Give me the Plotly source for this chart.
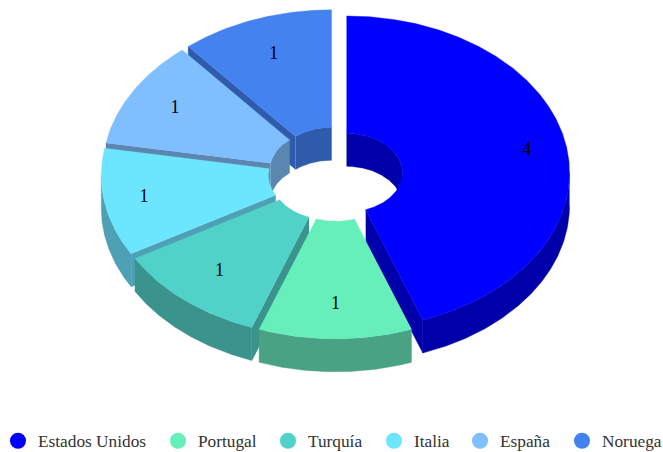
import numpy as np
import plotly.graph_objects as go

countries = ["Estados Unidos", "Portugal", "Turquía", "Italia", "España", "Noruega"]
values = [4, 1, 1, 1, 1, 1]
top_colors = ["#0000ff", "#66eebb", "#50d2c8", "#6ce5ff", "#7fbfff", "#4482f0"]
side_colors = ["#0000aa", "#4aa285", "#3a938d", "#4ea1b5", "#5a86b0", "#2e5bab"]

# projection of the tilted donut onto the page
W, H = 663, 452
CX, CY = 335.4, 174.1
R_OUT, R_IN = 223.0, 56.0
TILT = 0.703
DEPTH = 33.0
OFFSET = 11.3
LABEL_R = [183, 174, 169, 183, 174, 169]
DRAW_ORDER = [5, 4, 0, 3, 2, 1]
LEGEND_MARKER_X = [18, 178, 288, 394, 480, 582]
LEGEND_Y = 441


def arc(cx, cy, r, a0, a1, drop=0.0):
    a0 = float(a0); a1 = float(a1)
    t = np.radians(np.linspace(a0, a1, max(2, int(abs(a1 - a0)) * 2 + 1)))
    return cx + r * np.sin(t), cy - r * TILT * np.cos(t) + drop


def poly(fig, xs, ys, color):
    fig.add_trace(go.Scatter(
        x=np.concatenate(xs), y=np.concatenate(ys), mode="lines", fill="toself",
        fillcolor=color, line=dict(color=color, width=0.4),
        hoverinfo="skip", showlegend=False))


def clip(a0, a1, lo, hi):
    s, e = max(a0, lo), min(a1, hi)
    return (s, e) if e > s else None


fig = go.Figure()
total = sum(values)
edges = np.concatenate([[0], np.cumsum(values)]) * 360.0 / total
label_x, label_y = [None] * len(values), [None] * len(values)

for i in DRAW_ORDER:
    a0, a1 = edges[i], edges[i + 1]
    mid = np.radians((a0 + a1) / 2)
    cx = CX + OFFSET * np.sin(mid)
    cy = CY - OFFSET * TILT * np.cos(mid)
    side = side_colors[i]

    # inner wall: seen on the far half
    for lo, hi in ((0, 90), (270, 360)):
        c = clip(a0, a1, lo, hi)
        if c:
            x1, y1 = arc(cx, cy, R_IN, c[0], c[1])
            x2, y2 = arc(cx, cy, R_IN, c[1], c[0], DEPTH)
            poly(fig, [x1, x2], [y1, y2], side)

    # radial cut faces
    cut = a1 if a1 < 180 else (a0 if a0 > 180 else None)
    if cut is not None:
        t = np.radians(cut)
        s, c_ = np.sin(t), np.cos(t)
        fx = np.array([cx + R_IN * s, cx + R_OUT * s, cx + R_OUT * s, cx + R_IN * s])
        fy = np.array([cy - R_IN * TILT * c_, cy - R_OUT * TILT * c_,
                       cy - R_OUT * TILT * c_ + DEPTH, cy - R_IN * TILT * c_ + DEPTH])
        poly(fig, [fx], [fy], side)

    # outer wall: seen on the near half
    c = clip(a0, a1, 90, 270)
    if c:
        x1, y1 = arc(cx, cy, R_OUT, c[0], c[1])
        x2, y2 = arc(cx, cy, R_OUT, c[1], c[0], DEPTH)
        poly(fig, [x1, x2], [y1, y2], side)

    # top face
    x1, y1 = arc(cx, cy, R_OUT, a0, a1)
    x2, y2 = arc(cx, cy, R_IN, a1, a0)
    poly(fig, [x1, x2], [y1, y2], top_colors[i])

    label_x[i] = cx + LABEL_R[i] * np.sin(mid)
    label_y[i] = cy - LABEL_R[i] * TILT * np.cos(mid)

fig.add_trace(go.Scatter(
    x=label_x, y=label_y, mode="text", text=[str(v) for v in values],
    textposition="middle center",
    textfont=dict(family="Liberation Serif", size=18, color="#000000"),
    hoverinfo="skip", showlegend=False))

legend_layout = {}
for k, (name, color, mx) in enumerate(zip(countries, top_colors, LEGEND_MARKER_X)):
    key = "legend" if k == 0 else f"legend{k + 1}"
    fig.add_trace(go.Scatter(
        x=[None], y=[None], mode="markers", name=name, legend=key,
        marker=dict(symbol="circle", size=17, color=color)))
    legend_layout[key] = dict(
        orientation="h", x=(mx - 20) / W, y=1 - LEGEND_Y / H,
        xanchor="left", yanchor="middle",
        font=dict(family="Liberation Serif", size=17.3, color="#333333"),
        bgcolor="rgba(0,0,0,0)")

fig.update_layout(
    width=W, height=H, margin=dict(l=0, r=0, t=0, b=0, autoexpand=False),
    paper_bgcolor="white", plot_bgcolor="white",
    xaxis=dict(range=[0, W], visible=False, fixedrange=True),
    yaxis=dict(range=[H, 0], visible=False, fixedrange=True),
    **legend_layout,
)
fig.write_html("out.html", config=dict(displayModeBar=False),
               post_script="document.body.style.margin='0';")
